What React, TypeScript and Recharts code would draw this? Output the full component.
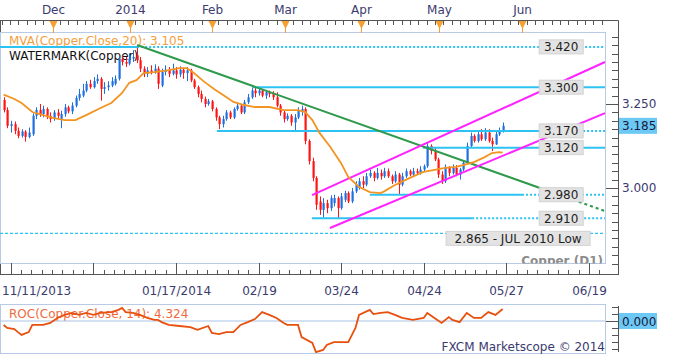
import React from 'react';
import { ComposedChart, Bar, Line, XAxis, YAxis, ReferenceLine, ReferenceDot } from 'recharts';

const FONT = "'DejaVu Sans', Verdana, sans-serif";
const BLUE = '#1f6fe0';
const RED = '#ff1414';
const CYAN = '#2cc3f3';
const AXIS_TEXT = '#3b3b70';
const FRAME = '#555555';
const BORDER = '#b9cbe4';

// Daily copper OHLC, bar 0 = 11/08/2013 ... bar 139 = 05/27/2014
const opens = [
  3.262, 3.232, 3.185, 3.19, 3.17, 3.155, 3.168, 3.152, 3.16, 3.215,
  3.232, 3.22, 3.235, 3.215, 3.205, 3.225, 3.205, 3.22, 3.24, 3.228,
  3.245, 3.268, 3.275, 3.29, 3.31, 3.3, 3.318, 3.325, 3.295, 3.3,
  3.305, 3.31, 3.325, 3.385, 3.375, 3.37, 3.385, 3.395, 3.38, 3.355,
  3.34, 3.35, 3.345, 3.355, 3.305, 3.345, 3.352, 3.34, 3.35, 3.338,
  3.352, 3.342, 3.35, 3.32, 3.3, 3.28, 3.265, 3.25, 3.258, 3.235,
  3.21, 3.19, 3.205, 3.225, 3.21, 3.235, 3.245, 3.225, 3.255, 3.27,
  3.29, 3.282, 3.29, 3.275, 3.285, 3.28, 3.27, 3.245, 3.225, 3.205,
  3.215, 3.195, 3.21, 3.23, 3.235, 3.14, 3.08, 3.03, 2.96, 2.935,
  2.955, 2.94, 2.955, 2.97, 2.94, 2.965, 2.985, 2.96, 2.99, 3.0,
  3.02, 3.01, 3.035, 3.045, 3.03, 3.045, 3.035, 3.05, 3.035, 3.02,
  3.04, 3.01, 3.035, 3.05, 3.04, 3.05, 3.045, 3.055, 3.065, 3.125,
  3.11, 3.085, 3.04, 3.02, 3.06, 3.045, 3.06, 3.04, 3.055, 3.075,
  3.125, 3.155, 3.14, 3.16, 3.145, 3.165, 3.14, 3.13, 3.16, 3.17,
];
const highs = [
  3.27, 3.24, 3.2, 3.198, 3.18, 3.175, 3.172, 3.18, 3.222, 3.24,
  3.25, 3.245, 3.24, 3.225, 3.232, 3.235, 3.23, 3.25, 3.245, 3.255,
  3.275, 3.295, 3.31, 3.318, 3.322, 3.33, 3.338, 3.33, 3.315, 3.318,
  3.33, 3.335, 3.392, 3.395, 3.39, 3.4, 3.41, 3.425, 3.39, 3.362,
  3.36, 3.365, 3.368, 3.362, 3.355, 3.365, 3.36, 3.37, 3.36, 3.362,
  3.358, 3.36, 3.355, 3.325, 3.305, 3.29, 3.272, 3.265, 3.262, 3.24,
  3.215, 3.215, 3.232, 3.23, 3.24, 3.255, 3.25, 3.262, 3.28, 3.298,
  3.302, 3.3, 3.295, 3.292, 3.29, 3.288, 3.285, 3.25, 3.23, 3.222,
  3.22, 3.22, 3.24, 3.245, 3.24, 3.145, 3.09, 3.035, 2.975, 2.97,
  2.965, 2.978, 2.98, 2.975, 2.985, 2.992, 2.99, 3.0, 3.02, 3.03,
  3.035, 3.045, 3.055, 3.05, 3.06, 3.055, 3.06, 3.058, 3.04, 3.05,
  3.045, 3.045, 3.058, 3.055, 3.06, 3.058, 3.065, 3.07, 3.135, 3.13,
  3.12, 3.09, 3.05, 3.07, 3.065, 3.07, 3.068, 3.06, 3.08, 3.135,
  3.165, 3.16, 3.17, 3.175, 3.178, 3.175, 3.15, 3.168, 3.18, 3.195,
];
const lows = [
  3.225, 3.178, 3.165, 3.16, 3.148, 3.15, 3.138, 3.148, 3.155, 3.205,
  3.212, 3.21, 3.205, 3.195, 3.2, 3.208, 3.178, 3.212, 3.222, 3.22,
  3.24, 3.26, 3.27, 3.285, 3.295, 3.296, 3.31, 3.26, 3.28, 3.29,
  3.3, 3.305, 3.32, 3.365, 3.36, 3.365, 3.375, 3.372, 3.345, 3.33,
  3.33, 3.338, 3.34, 3.295, 3.3, 3.335, 3.33, 3.335, 3.325, 3.33,
  3.325, 3.318, 3.315, 3.295, 3.27, 3.255, 3.24, 3.245, 3.228, 3.2,
  3.175, 3.18, 3.2, 3.205, 3.205, 3.23, 3.22, 3.22, 3.25, 3.265,
  3.27, 3.275, 3.27, 3.265, 3.27, 3.262, 3.24, 3.215, 3.195, 3.2,
  3.185, 3.17, 3.205, 3.215, 3.13, 3.07, 3.02, 2.935, 2.92, 2.912,
  2.925, 2.932, 2.945, 2.91, 2.935, 2.958, 2.955, 2.955, 2.985, 2.995,
  3.0, 3.005, 3.03, 3.02, 3.025, 3.025, 3.03, 3.03, 3.012, 3.015,
  2.98, 3.005, 3.03, 3.035, 3.035, 3.04, 3.04, 3.05, 3.06, 3.1,
  3.08, 3.03, 3.012, 3.015, 3.035, 3.04, 3.035, 3.025, 3.05, 3.07,
  3.12, 3.135, 3.135, 3.14, 3.14, 3.135, 3.11, 3.128, 3.155, 3.165,
];
const closes = [
  3.232, 3.185, 3.19, 3.17, 3.155, 3.168, 3.152, 3.165, 3.215, 3.232,
  3.22, 3.235, 3.215, 3.205, 3.225, 3.215, 3.22, 3.24, 3.228, 3.245,
  3.268, 3.28, 3.29, 3.31, 3.3, 3.318, 3.325, 3.295, 3.3, 3.305,
  3.318, 3.325, 3.385, 3.375, 3.37, 3.385, 3.39, 3.38, 3.355, 3.34,
  3.35, 3.345, 3.355, 3.31, 3.345, 3.352, 3.34, 3.35, 3.338, 3.352,
  3.342, 3.35, 3.32, 3.3, 3.28, 3.265, 3.25, 3.258, 3.235, 3.21,
  3.19, 3.205, 3.225, 3.21, 3.235, 3.245, 3.225, 3.255, 3.27, 3.29,
  3.282, 3.29, 3.275, 3.285, 3.28, 3.27, 3.245, 3.225, 3.205, 3.215,
  3.195, 3.21, 3.23, 3.235, 3.14, 3.08, 3.03, 2.95, 2.935, 2.955,
  2.94, 2.97, 2.97, 2.94, 2.975, 2.985, 2.96, 2.99, 3.01, 3.02,
  3.01, 3.035, 3.045, 3.03, 3.045, 3.035, 3.05, 3.035, 3.02, 3.04,
  3.01, 3.035, 3.05, 3.04, 3.05, 3.045, 3.055, 3.065, 3.125, 3.11,
  3.085, 3.04, 3.02, 3.06, 3.045, 3.06, 3.04, 3.055, 3.075, 3.125,
  3.155, 3.14, 3.16, 3.145, 3.165, 3.14, 3.13, 3.16, 3.17, 3.185,
];

// MVA(20) at these bars
const mvaIdx = [0, 3, 5, 8, 11, 14, 17, 20, 23, 27, 30, 33, 35, 37, 39, 42, 46, 49, 51, 53, 56, 59, 62, 64, 67, 70, 74, 78, 82, 84, 86, 88, 91, 94, 96, 99, 102, 105, 106, 109, 112, 115, 117, 120, 123, 126, 128, 131, 134, 136, 138, 139];
const mvaVal = [3.278, 3.265, 3.253, 3.226, 3.217, 3.208, 3.202, 3.202, 3.217, 3.238, 3.253, 3.283, 3.313, 3.321, 3.342, 3.345, 3.351, 3.357, 3.357, 3.342, 3.315, 3.292, 3.271, 3.256, 3.247, 3.241, 3.241, 3.232, 3.232, 3.226, 3.202, 3.164, 3.122, 3.074, 3.033, 3.003, 2.988, 2.985, 2.99, 3.009, 3.024, 3.039, 3.048, 3.054, 3.06, 3.063, 3.068, 3.077, 3.092, 3.104, 3.107, 3.105];

// ROC(14)
const rocIdx = [0, 1, 3, 4, 5, 7, 8, 11, 13, 15, 17, 19, 21, 23, 25, 27, 30, 32, 33, 34, 36, 38, 40, 42, 43, 44, 46, 49, 52, 54, 57, 58, 60, 62, 64, 66, 68, 70, 72, 74, 76, 78, 79, 82, 83, 86, 87, 89, 90, 92, 94, 96, 98, 99, 102, 103, 105, 107, 109, 111, 114, 117, 118, 120, 122, 124, 125, 127, 129, 131, 133, 135, 137, 139];
const rocVal = [-1.44, -2.5, -2.9, -4.0, -5.0, -4.0, -1.4, -1.4, -0.7, 1.1, 2.2, 2.9, 2.2, 2.9, 2.2, 2.9, 3.2, 4.0, 4.7, 3.2, 2.9, 2.2, 1.1, 0.4, 0.4, -0.4, -1.4, -1.8, -2.2, -3.2, -1.8, -4.3, -4.7, -4.0, -4.0, -1.4, -0.4, 0.7, 3.2, 2.2, 1.1, -0.7, -1.4, -1.4, -5.8, -7.9, -11.2, -10.4, -8.6, -7.6, -7.6, -7.6, -2.5, 2.2, 4.0, 2.5, 2.9, 3.2, 2.2, 1.1, 0.4, 1.1, 2.9, 1.1, -0.7, 1.4, 0.4, -0.4, 2.9, 1.1, 1.1, 3.2, 2.2, 4.324];

const lastPrice = 3.185;
const mvaLast = '3.105';
const rocLast = '4.324';

const X_DOMAIN: [number, number] = [-1, 167.5];
const PRICE_DOMAIN: [number, number] = [2.7738, 3.4613];
const ROC_DOMAIN: [number, number] = [-11.51, 5.76];

const bottomMajor = [2, 25, 48, 71, 94, 117, 140, 163];
const bottomLabels = ['11/11/2013', '', '01/17/2014', '02/19', '03/24', '04/24', '05/27', '06/19'];
const topMajor = [13.8, 35.2, 58.1, 78.4, 99.6, 121.3, 144.4];
const topLabels = ['Dec', '2014', 'Feb', 'Mar', 'Apr', 'May', 'Jun'];
const priceMajor = [3.0, 3.25];
const priceMajorLabels = ['3.000', '3.250'];

// horizontal support / resistance levels
const levelPrices = [3.42, 3.3, 3.17, 3.12, 2.98, 2.91];
const levelText = ['3.420', '3.300', '3.170', '3.120', '2.980', '2.910'];
const levelSolidFrom = [-1, 69.2, 59.4, 116.8, 102, 85.9];
const levelSolidTo = [37.2, 167.5, 161.4, 167.5, 144.4, 130.5];
const julyLow = 2.865;
const julyText = '2.865 - JUL 2010 Low';
const levelLabelX = 155.3;
const julyLabelX = 143.3;

const greenLine = [{ x: 37.2, y: 3.4256 }, { x: 158.6, y: 2.9651 }, { x: 167.5, y: 2.9314 }];
const upperChannel = [{ x: 85.9, y: 2.979 }, { x: 167.5, y: 3.375 }];
const lowerChannel = [{ x: 90.9, y: 2.881 }, { x: 167.5, y: 3.223 }];

const rows = closes.map((c, i) => ({
  i,
  o: opens[i],
  h: highs[i],
  l: lows[i],
  c,
  range: [lows[i], highs[i]] as [number, number],
  mva: undefined as number | undefined,
}));
mvaIdx.forEach((k, j) => {
  rows[k].mva = mvaVal[j];
});
const rocRows = rocIdx.map((k, j) => ({ i: k, roc: rocVal[j] }));

const bottomTicks: number[] = [];
for (let t = 2 - 23 / 8; t <= 167.5; t += 23 / 8) bottomTicks.push(+t.toFixed(3));
const topTicks: number[] = [...topMajor];
for (let t = -0.5; t <= 167.5; t += 2.32) {
  if (topMajor.every((m) => Math.abs(m - t) > 1)) topTicks.push(+t.toFixed(3));
}
const priceTicks: number[] = [lastPrice];
for (let p = 2.775; p <= 3.455; p += 0.025) priceTicks.push(+p.toFixed(3));
const rocTicks = [-10, -7.5, -5, -2.5, 0, 2.5, 5];

const Candle = (props: any) => {
  const { x, y, width, height, payload } = props;
  if (!payload || payload.h == null || x == null) return null;
  const top = Math.min(y, y + height);
  const hpx = Math.abs(height);
  const span = payload.h - payload.l;
  const k = span > 0 ? hpx / span : 0;
  const py = (p: number) => top + (payload.h - p) * k;
  const cx = Math.round(x + width / 2);
  const col = payload.c >= payload.o ? BLUE : RED;
  const bt = py(Math.max(payload.o, payload.c));
  const bb = py(Math.min(payload.o, payload.c));
  return (
    <g>
      <line x1={cx + 0.5} x2={cx + 0.5} y1={top} y2={top + hpx} stroke={col} strokeWidth={1} />
      <rect x={cx - 0.5} y={bt} width={2.2} height={Math.max(1, bb - bt)} fill={col} />
    </g>
  );
};

const TopTick = (props: any) => {
  const { x, payload } = props;
  const v = payload.value;
  const xr = Math.round(x) + 0.5;
  const k = topMajor.findIndex((m) => Math.abs(m - v) < 1e-6);
  if (k < 0) return <line x1={xr} x2={xr} y1={21} y2={25} stroke={FRAME} strokeWidth={1} />;
  return (
    <g>
      <line x1={xr} x2={xr} y1={21} y2={33} stroke="#f0a030" strokeWidth={1} />
      <path d={`M${xr - 4},21 L${xr + 4},21 L${xr},29 Z`} fill="#f5a030" />
      <text x={xr} y={14} textAnchor="middle" fontFamily={FONT} fontSize={12} fill={AXIS_TEXT}>
        {topLabels[k]}
      </text>
    </g>
  );
};

const BottomTick = (props: any) => {
  const { x, payload } = props;
  const v = payload.value;
  const xr = Math.round(x) + 0.5;
  const k = bottomMajor.findIndex((m) => Math.abs(m - v) < 1e-3);
  if (k < 0) return <line x1={xr} x2={xr} y1={270} y2={275} stroke={FRAME} strokeWidth={1} />;
  const first = k === 0;
  return (
    <g>
      <line x1={xr} x2={xr} y1={263} y2={275} stroke={FRAME} strokeWidth={1} />
      <text
        x={first ? 2 : xr}
        y={295}
        textAnchor={first ? 'start' : 'middle'}
        fontFamily={FONT}
        fontSize={12}
        fill={AXIS_TEXT}
      >
        {bottomLabels[k]}
      </text>
    </g>
  );
};

const PriceTick = (props: any) => {
  const { y, payload } = props;
  const v = payload.value;
  const yr = Math.round(y) + 0.5;
  if (Math.abs(v - lastPrice) < 1e-6) {
    return (
      <g>
        <rect x={619} y={y - 8} width={38} height={16} fill="#6cc9f4" />
        <text x={622} y={y + 4.5} fontFamily={FONT} fontSize={12} fill="#1a1a40">
          {lastPrice.toFixed(3)}
        </text>
      </g>
    );
  }
  const k = priceMajor.findIndex((m) => Math.abs(m - v) < 1e-6);
  if (k < 0) return <line x1={612} x2={618} y1={yr} y2={yr} stroke={FRAME} strokeWidth={1} />;
  return (
    <g>
      <line x1={606} x2={618} y1={yr} y2={yr} stroke={FRAME} strokeWidth={1} />
      <text x={622} y={y + 4.5} fontFamily={FONT} fontSize={12} fill={AXIS_TEXT}>
        {priceMajorLabels[k]}
      </text>
    </g>
  );
};

const RocTick = (props: any) => {
  const { y, payload } = props;
  const v = payload.value;
  const yr = Math.round(y) + 0.5;
  if (v === 0) {
    return (
      <g>
        <line x1={606} x2={618} y1={yr} y2={yr} stroke={FRAME} strokeWidth={1} />
        <rect x={619} y={y - 8} width={38} height={16} fill="#6cc9f4" />
        <text x={622} y={y + 4.5} fontFamily={FONT} fontSize={12} fill="#1a1a40">
          0.000
        </text>
      </g>
    );
  }
  return <line x1={612} x2={618} y1={yr} y2={yr} stroke={FRAME} strokeWidth={1} />;
};

const levelBox = (text: string, w: number, dy: number) => (props: any) => {
  const { cx, cy } = props;
  return (
    <g>
      <rect x={cx - w / 2} y={cy + dy - 7} width={w} height={14} fill="#e3e3e3" stroke="#d2d2d2" strokeWidth={1} />
      <text x={cx} y={cy + dy + 4.5} textAnchor="middle" fontFamily={FONT} fontSize={12} fill="#1e1e1e">
        {text}
      </text>
    </g>
  );
};

const Background = () => (
  <svg width={680} height={355} style={{ position: 'absolute', left: 0, top: 0 }}>
    <defs>
      <clipPath id="plotClip">
        <rect x={0} y={33} width={605} height={230.5} />
      </clipPath>
    </defs>
    <rect x={0} y={0} width={680} height={355} fill="#ffffff" />
    {/* main frame */}
    <line x1={0} x2={618.5} y1={20.5} y2={20.5} stroke={FRAME} />
    <line x1={0.5} x2={0.5} y1={20.5} y2={275} stroke={FRAME} />
    <line x1={618.5} x2={618.5} y1={20.5} y2={275} stroke={FRAME} />
    <line x1={0} x2={619} y1={274.5} y2={274.5} stroke={FRAME} />
    <rect x={0.5} y={32.5} width={605} height={231} fill="none" stroke={BORDER} />
    {/* ROC frame */}
    <rect x={0.5} y={304.5} width={605} height={49} fill="none" stroke={BORDER} />
    <line x1={618.5} x2={618.5} y1={306} y2={352} stroke={FRAME} />
    {/* legends */}
    <text x={9} y={45} fontFamily={FONT} fontSize={12} fill="#f5a040">
      {`MVA(Copper.Close,20): ${mvaLast}`}
    </text>
    <text x={9} y={60} fontFamily={FONT} fontSize={12} fill="#111111">
      WATERMARK(Copper)
    </text>
    <g clipPath="url(#plotClip)">
      <text x={603} y={265} textAnchor="end" fontFamily={FONT} fontSize={12} fontWeight="bold" fill="#8c8c8c">
        Copper (D1)
      </text>
    </g>
    <text x={9} y={317.5} fontFamily={FONT} fontSize={12} fill="#ee6a3c">
      {`ROC(Copper.Close, 14): ${rocLast}`}
    </text>
    <text x={605} y={351} textAnchor="end" fontFamily={FONT} fontSize={12} fill={AXIS_TEXT}>
      FXCM Marketscope © 2014
    </text>
  </svg>
);

export default function App() {
  return (
    <div style={{ position: 'absolute', left: 0, top: 0, width: 680, height: 355, overflow: 'hidden', background: '#fff' }}>
      <Background />
      <div style={{ position: 'absolute', left: 0, top: 0 }}>
        <ComposedChart width={680} height={300} data={rows} margin={{ top: 0, right: 0, bottom: 0, left: 0 }}>
          <XAxis
            xAxisId="t"
            orientation="top"
            type="number"
            dataKey="i"
            domain={X_DOMAIN}
            allowDataOverflow
            ticks={topTicks}
            interval={0}
            height={33}
            axisLine={false}
            tickLine={false}
            tick={TopTick}
          />
          <XAxis
            xAxisId="b"
            orientation="bottom"
            type="number"
            dataKey="i"
            domain={X_DOMAIN}
            allowDataOverflow
            ticks={bottomTicks}
            interval={0}
            height={36}
            axisLine={false}
            tickLine={false}
            tick={BottomTick}
          />
          <YAxis
            orientation="right"
            type="number"
            domain={PRICE_DOMAIN}
            allowDataOverflow
            ticks={priceTicks}
            interval={0}
            width={75}
            axisLine={false}
            tickLine={false}
            tick={PriceTick}
          />
          {levelPrices.map((p, k) => (
            <ReferenceLine
              key={`s${k}`}
              xAxisId="b"
              segment={[{ x: levelSolidFrom[k], y: p }, { x: levelSolidTo[k], y: p }]}
              stroke={CYAN}
              strokeWidth={2}
            />
          ))}
          {levelPrices.map((p, k) =>
            levelSolidTo[k] < 167.5 ? (
              <ReferenceLine
                key={`d${k}`}
                xAxisId="b"
                segment={[{ x: levelSolidTo[k], y: p }, { x: 167.5, y: p }]}
                stroke={CYAN}
                strokeWidth={2}
                strokeDasharray="2 2"
              />
            ) : null
          )}
          <ReferenceLine
            xAxisId="b"
            segment={[{ x: -1, y: julyLow }, { x: 167.5, y: julyLow }]}
            stroke={CYAN}
            strokeWidth={1.2}
            strokeDasharray="3 2"
          />
          <ReferenceLine xAxisId="b" segment={[greenLine[0], greenLine[1]]} stroke="#2f9a4c" strokeWidth={2} />
          <ReferenceLine
            xAxisId="b"
            segment={[greenLine[1], greenLine[2]]}
            stroke="#2f9a4c"
            strokeWidth={2}
            strokeDasharray="3 3"
          />
          <ReferenceLine xAxisId="b" segment={upperChannel} stroke="#ff22ff" strokeWidth={2} />
          <ReferenceLine xAxisId="b" segment={lowerChannel} stroke="#ff22ff" strokeWidth={2} />
          <Bar xAxisId="b" dataKey="range" barSize={2} shape={Candle} isAnimationActive={false} />
          <Line
            xAxisId="b"
            dataKey="mva"
            stroke="#f39422"
            strokeWidth={1.8}
            dot={false}
            connectNulls
            isAnimationActive={false}
          />
          {levelPrices.map((p, k) => (
            <ReferenceDot
              key={`l${k}`}
              xAxisId="b"
              x={levelLabelX}
              y={p}
              r={0}
              shape={levelBox(levelText[k], 44, 0)}
            />
          ))}
          <ReferenceDot xAxisId="b" x={julyLabelX} y={julyLow} r={0} shape={levelBox(julyText, 144, 5)} />
        </ComposedChart>
      </div>
      <div style={{ position: 'absolute', left: 0, top: 300 }}>
        <ComposedChart width={680} height={55} data={rocRows} margin={{ top: 5, right: 0, bottom: 2, left: 0 }}>
          <XAxis type="number" dataKey="i" domain={X_DOMAIN} allowDataOverflow hide />
          <YAxis
            orientation="right"
            type="number"
            domain={ROC_DOMAIN}
            allowDataOverflow
            ticks={rocTicks}
            interval={0}
            width={75}
            axisLine={false}
            tickLine={false}
            tick={RocTick}
          />
          <ReferenceLine y={0} stroke="#a9c3e6" strokeWidth={1} />
          <Line dataKey="roc" stroke="#e8500e" strokeWidth={1.8} dot={false} isAnimationActive={false} />
        </ComposedChart>
      </div>
    </div>
  );
}
